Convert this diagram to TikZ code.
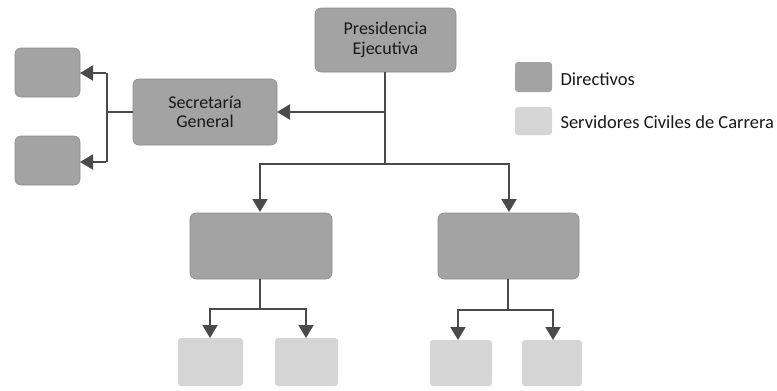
\documentclass[tikz,border=0pt]{standalone}
\usepackage{fontspec}
\setmainfont{Carlito}
\usetikzlibrary{arrows.meta}
\definecolor{dirgray}{HTML}{A3A3A3}
\definecolor{civgray}{HTML}{D5D5D5}
\definecolor{linegray}{HTML}{4A4A4A}
\begin{document}
\begin{tikzpicture}[x=1pt,y=-1pt,
  dirbox/.style={fill=dirgray, draw=dirgray!85!black, line width=0.6pt, rounded corners=6pt},
  label/.style={font=\fontsize{18}{19.5}\selectfont, text=black!90, align=center},
  legtext/.style={font=\fontsize{18.5}{20}\selectfont, text=black!90, anchor=west},
  conn/.style={draw=linegray, line width=2pt},
  arr/.style={conn, -{Triangle[length=13pt,width=15pt]}}]
\useasboundingbox (0,0) rectangle (777,391);
% directive boxes
\draw[dirbox] (315,8) rectangle (456,72);
\node[label] (pres) at (385.5,40) {Presidencia\\Ejecutiva};
\coordinate (presS) at (385,72);
\draw[dirbox] (133,79) rectangle (277,145);
\node[label] (sec) at (205,112) {Secretaría\\General};
\coordinate (secE) at (277,112);
\coordinate (secW) at (133,112);
\draw[dirbox] (190,213) rectangle (332,279);
\draw[dirbox] (438,213) rectangle (579,279);
\draw[dirbox] (15,48) rectangle (80,97);
\draw[dirbox] (15,136) rectangle (80,185);
% career civil servant boxes
\fill[civgray, rounded corners=3pt] (178,338) rectangle (243,386);
\fill[civgray, rounded corners=3pt] (275,338) rectangle (338,386);
\fill[civgray, rounded corners=3pt] (430,340) rectangle (492,386);
\fill[civgray, rounded corners=3pt] (522,340) rectangle (582,386);
% legend
\fill[dirgray, rounded corners=3pt] (515,62) rectangle (552,92);
\node[legtext] (legdir) at (557,79) {Directivos};
\fill[civgray, rounded corners=3pt] (515,107) rectangle (552,135);
\node[legtext] (legciv) at (557,122) {Servidores Civiles de Carrera};
% connectors from the presidency
\draw[conn] (presS) -- (385,164);
\draw[arr] (385,112) -- (secE);
\draw[conn] (260,164) -- (510,164);
\draw[arr] (260,163) -- (260,212);
\draw[arr] (509,163) -- (509,212);
% connectors from the secretary general
\draw[conn] (secW) -- (107,112);
\draw[conn] (107,73) -- (107,162);
\draw[arr] (106,73) -- (80,73);
\draw[arr] (106,162) -- (80,162);
% connectors to the lower boxes
\draw[conn] (260,279) -- (260,309);
\draw[conn] (210,309) -- (306,309);
\draw[arr] (210,308) -- (210,338);
\draw[arr] (306,308) -- (306,338);
\draw[conn] (508,279) -- (508,310);
\draw[conn] (458,310) -- (553,310);
\draw[arr] (458,309) -- (458,340);
\draw[arr] (553,309) -- (553,340);
\end{tikzpicture}
\end{document}
